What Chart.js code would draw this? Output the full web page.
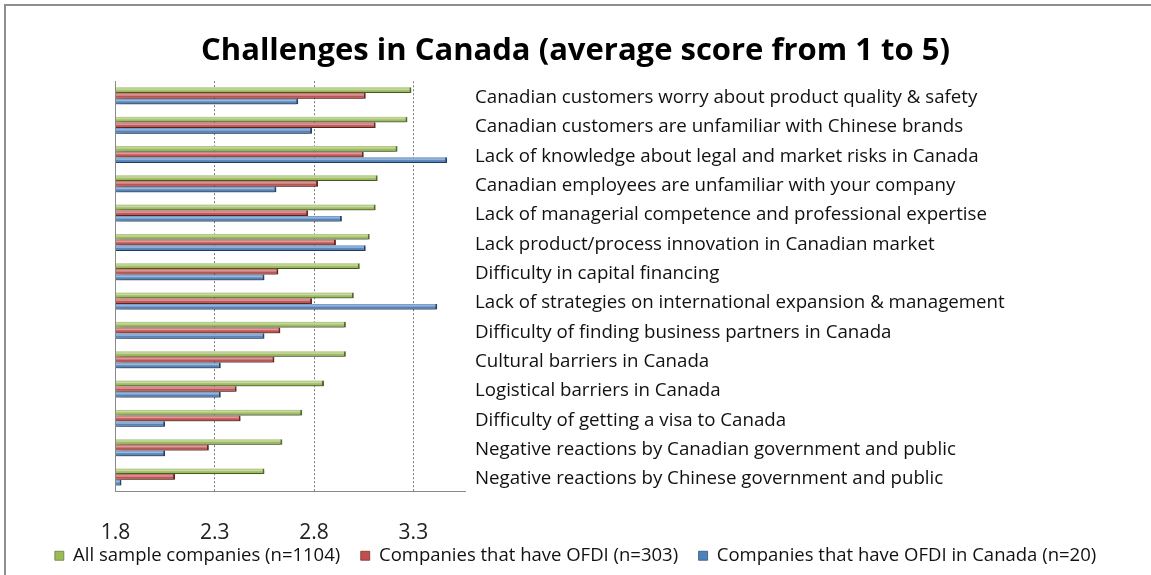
<!DOCTYPE html>
<html>
<head>
<meta charset="utf-8">
<title>Challenges in Canada</title>
<script src="https://cdn.jsdelivr.net/npm/chart.js@4.4.1/dist/chart.umd.min.js"></script>
<style>
    html, body { margin: 0; background: #fff; }
    #wrap { position: relative; width: 1151px; height: 575px; overflow: hidden; }
    #frame {
        position: absolute; left: 4px; top: 4px; right: -4px; bottom: -4px;
        border-left: 2px solid #8e8e8e; border-top: 2px solid #8e8e8e;
        pointer-events: none;
    }
</style>
</head>
<body>
<div id="wrap">
    <canvas id="chart" width="1151" height="575"></canvas>
    <div id="frame"></div>
</div>
<script>
"use strict";

const FONT = "'Open Sans', 'Noto Sans', sans-serif";

const categories = [
    "Canadian customers worry about product quality & safety",
    "Canadian customers are unfamiliar with Chinese brands",
    "Lack of knowledge about legal and market risks in Canada",
    "Canadian employees are unfamiliar with your company",
    "Lack of managerial competence and professional expertise",
    "Lack product/process innovation in Canadian market",
    "Difficulty in capital financing",
    "Lack of strategies on international expansion & management",
    "Difficulty of finding business partners in Canada",
    "Cultural barriers in Canada",
    "Logistical barriers in Canada",
    "Difficulty of getting a visa to Canada",
    "Negative reactions by Canadian government and public",
    "Negative reactions by Chinese government and public"
];

const allSample  = [3.29, 3.27, 3.22, 3.12, 3.11, 3.08, 3.03, 3.00, 2.96, 2.96, 2.85, 2.74, 2.64, 2.55];
const ofdi       = [3.06, 3.11, 3.05, 2.82, 2.77, 2.91, 2.62, 2.79, 2.63, 2.60, 2.41, 2.43, 2.27, 2.10];
const ofdiCanada = [2.72, 2.79, 3.47, 2.61, 2.94, 3.06, 2.55, 3.42, 2.55, 2.33, 2.33, 2.05, 2.05, 1.83];

const xTicks = [1.8, 2.3, 2.8, 3.3];
const X_MIN = 1.8;
const X_MAX = 3.56;

// legend rows are kept thin, so the gap between entries comes from trailing spaces
const LEGEND_GAP = "\u2002\u2002";

// soft drop shadow under the bars, then a glossy highlight on top of each one
const barStyle = {
    id: "barStyle",
    beforeDatasetsDraw(chart) {
        const ctx = chart.ctx;
        ctx.save();
        ctx.shadowColor = "rgba(0,0,0,0.45)";
        ctx.shadowBlur = 6;
        ctx.shadowOffsetX = 2;
        ctx.shadowOffsetY = 3;
    },
    afterDatasetsDraw(chart) {
        const ctx = chart.ctx;
        ctx.restore();
        const area = chart.chartArea;
        ctx.save();
        ctx.beginPath();
        ctx.rect(area.left, area.top, area.right - area.left, area.bottom - area.top);
        ctx.clip();
        chart.data.datasets.forEach((ds, di) => {
            chart.getDatasetMeta(di).data.forEach(bar => {
                const { x, y, base, height } = bar.getProps(["x", "y", "base", "height"], true);
                const top = y - height / 2;
                const g = ctx.createLinearGradient(0, top, 0, top + height);
                g.addColorStop(0, "rgba(255,255,255,0.15)");
                g.addColorStop(0.35, "rgba(255,255,255,0.45)");
                g.addColorStop(0.6, "rgba(255,255,255,0)");
                g.addColorStop(1, "rgba(0,0,0,0.22)");
                ctx.fillStyle = g;
                ctx.fillRect(base, top, x - base - 2, height);
            });
        });
        ctx.restore();
    }
};

function series(label, data, fill, edge) {
    return {
        label,
        data,
        base: X_MIN,
        backgroundColor: fill,
        borderColor: edge,
        borderWidth: { top: 0, right: 2, bottom: 1, left: 0 },
        borderSkipped: false,
        categoryPercentage: 0.58,
        barPercentage: 1.0
    };
}

new Chart(document.getElementById("chart"), {
    type: "bar",
    data: {
        labels: categories,
        datasets: [
            series("All sample companies (n=1104)", allSample, "#9bbb59", "#5f7a2c"),
            series("Companies that have OFDI (n=303)", ofdi, "#c0504d", "#7a2a27"),
            series("Companies that have OFDI in Canada (n=20)", ofdiCanada, "#4f81bd", "#2a4c78")
        ]
    },
    plugins: [barStyle],
    options: {
        indexAxis: "y",
        responsive: false,
        animation: false,
        layout: { padding: { top: 6, right: 0, bottom: 0, left: 0 } },
        plugins: {
            title: {
                display: true,
                text: "Challenges in Canada (average score from 1 to 5)",
                color: "#000",
                font: { family: FONT, size: 31, weight: "bold" },
                padding: { top: 27, bottom: 11 }
            },
            legend: {
                position: "bottom",
                labels: {
                    color: "#111",
                    font: { family: FONT, size: 18.5 },
                    boxWidth: 9,
                    boxHeight: 9,
                    padding: 2,
                    generateLabels: chart => {
                        const items = Chart.defaults.plugins.legend.labels.generateLabels(chart);
                        items.forEach((it, i) => {
                            if (i < items.length - 1) it.text += LEGEND_GAP;
                        });
                        return items;
                    }
                }
            },
            tooltip: { enabled: false }
        },
        scales: {
            x: {
                min: X_MIN,
                max: X_MAX,
                afterBuildTicks: s => { s.ticks = xTicks.map(v => ({ value: v })); },
                afterFit: s => { s.height = 52.9; },
                ticks: {
                    color: "#222",
                    font: { family: FONT, size: 21 },
                    padding: 29,
                    callback: v => v.toFixed(1)
                },
                grid: {
                    drawTicks: false,
                    color: c => (c.tick && c.tick.value === X_MIN) ? "rgba(0,0,0,0)" : "#7a7a7a",
                    lineWidth: 1
                },
                border: { display: true, color: "#8a8a8a", width: 1, dash: [2, 2] }
            },
            y: {
                position: "right",
                afterFit: s => { s.width = 686; },
                ticks: {
                    color: "#111",
                    font: { family: FONT, size: 18.7 },
                    padding: 10,
                    labelOffset: 2,
                    crossAlign: "near"
                },
                grid: { display: false, drawTicks: false },
                border: { display: false }
            },
            yAxisLine: {
                type: "category",
                position: "left",
                afterFit: s => { s.width = 115.5; },
                ticks: { display: false },
                grid: { display: false, drawTicks: false },
                border: { display: true, color: "#8a8a8a", width: 1 }
            }
        }
    }
});
</script>
</body>
</html>
